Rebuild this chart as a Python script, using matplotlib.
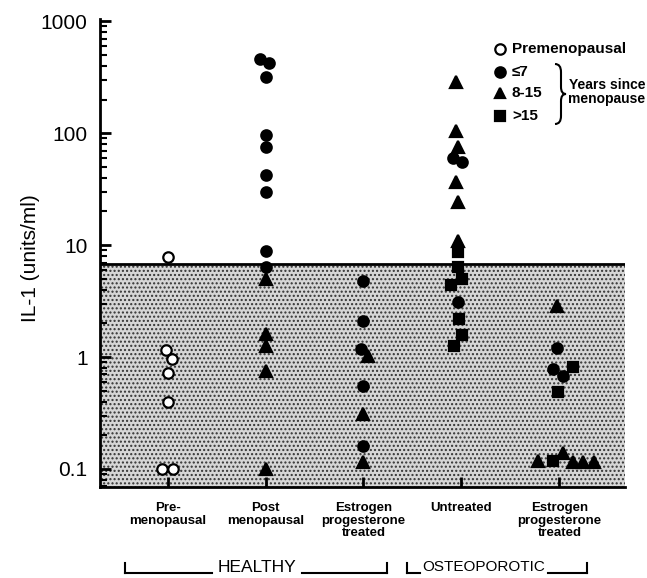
import numpy as np
import matplotlib
matplotlib.use("Agg")
import matplotlib.pyplot as plt
from matplotlib.lines import Line2D
from matplotlib.path import Path
from matplotlib.patches import PathPatch

# values (IL-1, units/ml); dx = small horizontal offset of each dot
pre_open = [7.8, 1.15, 0.96, 0.72, 0.40, 0.1, 0.1]
pre_open_dx = [0.0, -0.02, 0.05, 0.0, 0.0, -0.06, 0.06]

post_circ = [457, 422, 316, 96, 76, 42, 30, 8.8, 6.4]
post_circ_dx = [-0.06, 0.04, 0.0, 0.0, 0.0, 0.0, 0.0, 0.0, 0.0]
post_tri = [5.0, 1.6, 1.25, 0.75, 0.1]
post_tri_dx = [0.0, 0.0, 0.0, 0.0, 0.0]

hest_circ = [4.8, 2.1, 1.18, 0.55, 0.16]
hest_circ_dx = [0.0, 0.0, -0.03, 0.0, 0.0]
hest_tri = [1.02, 0.31, 0.115]
hest_tri_dx = [0.05, 0.0, 0.0]

unt_tri = [285, 105, 76, 37, 24.5, 11]
unt_tri_dx = [-0.06, -0.06, -0.04, -0.06, -0.04, -0.04]
unt_circ = [60, 55, 3.1]
unt_circ_dx = [-0.09, 0.01, -0.03]
unt_sq = [8.6, 6.4, 5.0, 4.4, 2.2, 1.57, 1.25]
unt_sq_dx = [-0.03, -0.03, 0.01, -0.11, -0.02, 0.01, -0.08]

ost_tri = [2.85, 0.117, 0.14, 0.115, 0.115, 0.115]
ost_tri_dx = [-0.02, -0.22, 0.04, 0.14, 0.24, 0.35]
ost_circ = [1.2, 0.78, 0.68]
ost_circ_dx = [-0.02, -0.06, 0.04]
ost_sq = [0.81, 0.49, 0.117]
ost_sq_dx = [0.14, -0.01, -0.07]

categories = ["Pre-\nmenopausal", "Post\nmenopausal", "Estrogen\nprogesterone\ntreated",
              "Untreated", "Estrogen\nprogesterone\ntreated"]
threshold = 6.8

W, H = 647, 578
fig = plt.figure(figsize=(W / 100, H / 100), dpi=100)


def fx(px):
    return px / W


def fy(py):
    return 1 - py / H


ax = fig.add_axes([fx(100), fy(487), fx(625) - fx(100), fy(19) - fy(487)])
ax.set_yscale("log")
ax.set_ylim(0.069, 1050)
ax.set_xlim(0.31, 5.67)

# stippled "normal range" area + threshold line
ax.axhspan(0.069, threshold, facecolor="#d6d6d6", edgecolor="#333333", hatch="....",
           linewidth=0, zorder=0)
ax.axhline(threshold, color="black", lw=2, zorder=2)


def put(xc, vals, dx, marker, ms, filled=True):
    xs = [xc + d for d in dx]
    ax.plot(xs, vals, linestyle="none", marker=marker, ms=ms,
            mfc="black" if filled else "white", mec="black", mew=1.6, zorder=3)


put(1, pre_open, pre_open_dx, "o", 7.5, filled=False)
put(2, post_circ, post_circ_dx, "o", 7.5)
put(2, post_tri, post_tri_dx, "^", 8.5)
put(3, hest_circ, hest_circ_dx, "o", 7.5)
put(3, hest_tri, hest_tri_dx, "^", 8.5)
put(4, unt_tri, unt_tri_dx, "^", 8.5)
put(4, unt_circ, unt_circ_dx, "o", 7.5)
put(4, unt_sq, unt_sq_dx, "s", 7)
put(5, ost_tri, ost_tri_dx, "^", 8.5)
put(5, ost_circ, ost_circ_dx, "o", 7.5)
put(5, ost_sq, ost_sq_dx, "s", 7)

for s in ["top", "right"]:
    ax.spines[s].set_visible(False)
ax.spines["left"].set_linewidth(2)
ax.spines["bottom"].set_linewidth(2)

ax.set_yticks([0.1, 1, 10, 100, 1000])
ax.set_yticklabels(["0.1", "1", "10", "100", "1000"], fontsize=15, family="Liberation Sans")
ax.tick_params(axis="y", which="major", direction="in", length=8, width=2, pad=9)
ax.tick_params(axis="y", which="minor", direction="in", length=5, width=1.5)
ax.set_xticks([1, 2, 3, 4, 5])
ax.set_xticklabels(categories, fontsize=9.5, fontweight="bold",
                   family="Liberation Sans", linespacing=1.05)
ax.tick_params(axis="x", direction="in", length=7, width=2, pad=11)

fig.text(fx(30), fy(258), "IL-1 (units/ml)", rotation=90, ha="center", va="center",
         fontsize=15, family="Liberation Sans")

# legend
leg_items = [("o", False, "Premenopausal", 49), ("o", True, "\u22647", 72),
             ("^", True, "8-15", 93), ("s", True, ">15", 116)]
for mk, filled, lab, py in leg_items:
    fig.add_artist(Line2D([fx(500)], [fy(py)], marker=mk, ms=7.5 if mk != "s" else 7,
                          mfc="black" if filled else "white", mec="black", mew=1.6,
                          linestyle="none", transform=fig.transFigure))
    fig.text(fx(512), fy(py), lab, ha="left", va="center", fontsize=11,
             fontweight="bold", family="Liberation Sans")

verts = [(555, 64), (561, 64), (561, 72), (561, 87), (561, 94), (566, 94),
         (561, 94), (561, 101), (561, 116), (561, 124), (555, 124)]
codes = [Path.MOVETO, Path.CURVE3, Path.CURVE3, Path.LINETO, Path.CURVE3, Path.CURVE3,
         Path.CURVE3, Path.CURVE3, Path.LINETO, Path.CURVE3, Path.CURVE3]
brace = Path([(fx(a), fy(b)) for a, b in verts], codes)
fig.add_artist(PathPatch(brace, fc="none", ec="black", lw=1.5, transform=fig.transFigure))
fig.text(fx(607), fy(92), "Years since\nmenopause", ha="center", va="center", fontsize=10,
         fontweight="bold", family="Liberation Sans", linespacing=1.05)

# group brackets
def bracket(x0, x1, t0, t1, tx, label, size):
    ybot, ytop = 573, 563
    segs = [((x0, ytop), (x0, ybot)), ((x0, ybot), (t0, ybot)),
            ((t1, ybot), (x1, ybot)), ((x1, ybot), (x1, ytop))]
    for (a, b), (c, d) in segs:
        fig.add_artist(Line2D([fx(a), fx(c)], [fy(b), fy(d)], color="black", lw=1.5,
                              transform=fig.transFigure))
    fig.text(fx(tx), fy(567), label, ha="center", va="center", fontsize=size,
             family="Liberation Sans")


bracket(125, 387, 212, 302, 257, "HEALTHY", 12.5)
bracket(407, 587, 420, 548, 484, "OSTEOPOROTIC", 11)

fig.savefig("out.png", dpi=100)
